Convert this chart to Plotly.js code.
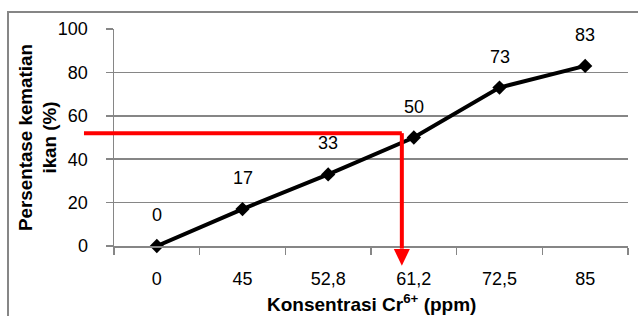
<!DOCTYPE html>
<html>
<head>
<meta charset="utf-8">
<script src="https://cdn.plot.ly/plotly-3.0.1.min.js"></script>
<style>html,body{margin:0;padding:0;background:#fff;}#chart{width:638px;height:316px;}</style>
</head>
<body>
<div id="chart"></div>
<script>
// Data
const concentrations = ["0", "45", "52,8", "61,2", "72,5", "85"];
const mortality = [0, 17, 33, 50, 73, 83];
const labels = ["0", "17", "33", "50", "73", "83"];
const xTitle = "<b>Konsentrasi Cr<sup>6+</sup> (ppm)</b>";
const yTitle = "<b>Persentase kematian<br>ikan (%)</b>";
// Reading line (red): mortality level and its category position on the x axis
const readLevel = 52;
const readPos = 2.86;

const FONT = "Liberation Sans, Arial, sans-serif";
const nCat = concentrations.length;
const yMin = 0, yMax = 100;
const py = v => (v - yMin) / (yMax - yMin);
const px = i => (i + 0.5) / nCat;

const trace = {
  x: concentrations,
  y: mortality,
  type: "scatter",
  mode: "lines+markers",
  line: {color: "#000000", width: 4},
  marker: {symbol: "diamond", size: 11, color: "#000000"},
  hoverinfo: "none",
  cliponaxis: false
};

// annotation x uses category serial numbers (so "45"/"85" are not read as positions)
const annotations = concentrations.map((c, i) => ({
  x: i, y: mortality[i], xref: "x", yref: "y",
  text: labels[i], showarrow: false, yshift: 31,
  font: {family: FONT, size: 18, color: "#000"}
}));
// axis titles
annotations.push({
  xref: "paper", yref: "paper", x: -0.1488, y: 0.5, xanchor: "center", yanchor: "middle",
  text: yTitle, textangle: -90, showarrow: false,
  font: {family: FONT, size: 18.8, color: "#000"}
});
annotations.push({
  xref: "paper", yref: "paper", x: 0.5, y: -0.261, xanchor: "center", yanchor: "middle",
  text: xTitle, showarrow: false,
  font: {family: FONT, size: 19, color: "#000"}
});

const red = "#ff0000";
const shapes = [
  // outer chart border
  {type: "rect", xref: "paper", yref: "paper", x0: -0.2062, x1: 1.1, y0: -0.5, y1: 1.0783,
   line: {color: "#868686", width: 2}, fillcolor: "rgba(0,0,0,0)", layer: "below"},
  // horizontal reading line
  {type: "line", xref: "paper", yref: "paper", x0: -0.0584, x1: px(readPos), y0: py(readLevel), y1: py(readLevel),
   line: {color: red, width: 4}},
  // vertical reading line
  {type: "line", xref: "paper", yref: "paper", x0: px(readPos), x1: px(readPos), y0: py(readLevel), y1: -0.012,
   line: {color: red, width: 4}},
  // arrow head
  {type: "path", xref: "paper", yref: "paper",
   path: `M ${px(readPos) - 0.0156} -0.0138 L ${px(readPos) + 0.0156} -0.0138 L ${px(readPos)} -0.091 Z`,
   fillcolor: red, line: {color: red, width: 0}}
];

const layout = {
  width: 638, height: 316,
  margin: {l: 114, r: 10, t: 29, b: 70, pad: 0},
  paper_bgcolor: "#ffffff", plot_bgcolor: "#ffffff",
  showlegend: false,
  font: {family: FONT, size: 18, color: "#000"},
  xaxis: {
    type: "category",
    categoryorder: "array", categoryarray: concentrations,
    range: [-0.5, nCat - 0.5],
    showgrid: false, zeroline: false,
    showline: true, linecolor: "#868686", linewidth: 1.5,
    ticks: "outside", tickson: "boundaries", ticklen: 7, tickcolor: "#868686", tickwidth: 1.5,
    ticklabelstandoff: 16,
    tickfont: {family: FONT, size: 18, color: "#000"},
    fixedrange: true
  },
  yaxis: {
    range: [yMin, yMax], dtick: 20, tick0: 0,
    showgrid: true, gridcolor: "#868686", gridwidth: 1.5,
    zeroline: false,
    showline: true, linecolor: "#868686", linewidth: 1.5,
    ticks: "outside", ticklen: 7, tickcolor: "#868686", tickwidth: 1.5,
    ticklabelstandoff: 14,
    tickfont: {family: FONT, size: 18, color: "#000"},
    fixedrange: true
  },
  annotations: annotations,
  shapes: shapes
};

Plotly.newPlot("chart", [trace], layout, {displayModeBar: false, staticPlot: true});
</script>
</body>
</html>
